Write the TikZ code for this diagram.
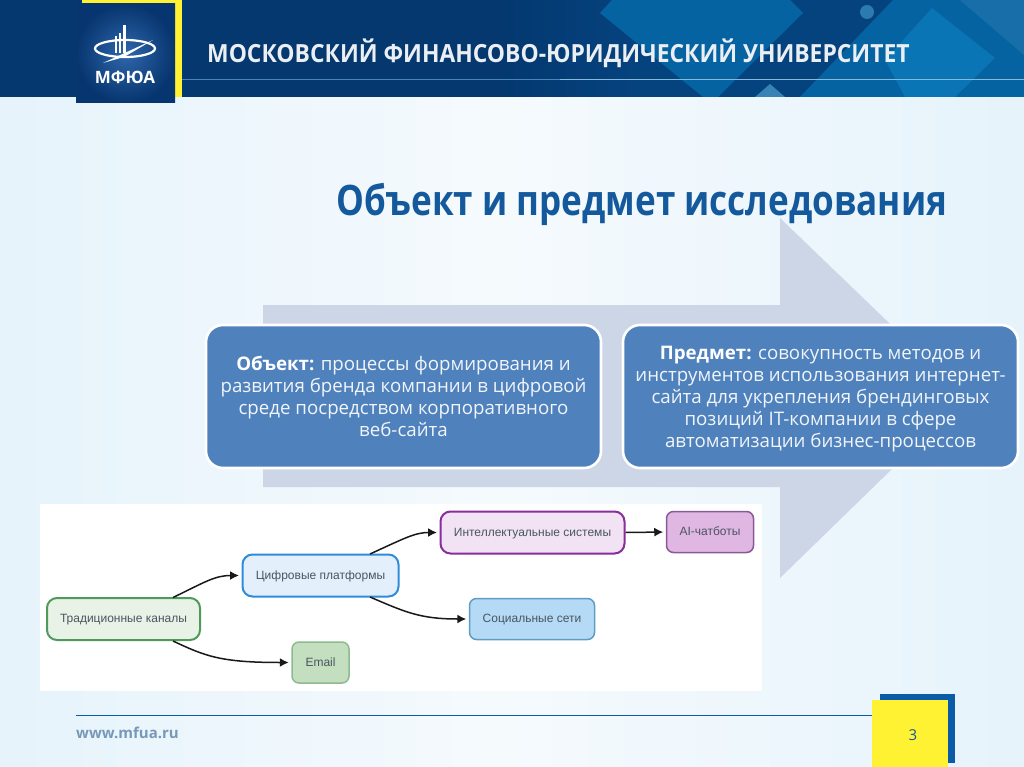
\documentclass[tikz,border=0pt]{standalone}
\usepackage{fontspec}
\setmainfont{Open Sans}
\newfontfamily\headfont[FakeStretch=0.915]{Open Sans}
\newfontfamily\plainfont{Open Sans}
\newfontfamily\titlefont[FakeStretch=0.835]{Open Sans}
\newfontfamily\bodyfont{Open Sans}
\newfontfamily\flowfont{Liberation Sans}
\usetikzlibrary{arrows.meta,shadings}
\definecolor{navy}{HTML}{04386F}
\definecolor{logoblue}{HTML}{0A4C9E}
\definecolor{yellowc}{HTML}{FFF233}
\definecolor{barblue}{HTML}{0B5CA8}
\definecolor{pale}{HTML}{E6F3FB}
\definecolor{arrowc}{HTML}{CDD6E6}
\definecolor{boxblue}{HTML}{4F81BD}
\definecolor{titlec}{HTML}{14599B}
\definecolor{inktext}{HTML}{4A5560}
\definecolor{hdmid}{HTML}{0663A2}
\definecolor{hddark}{HTML}{05437F}
\definecolor{hdlight}{HTML}{0A75B5}
\tikzset{
  x=1pt,y=-1pt,
  txtbox/.style={rectangle,rounded corners=17pt,draw=white,line width=2.6pt,fill=boxblue,
    text=white!92!boxblue,align=center,font=\bodyfont\fontsize{18.7}{22}\selectfont,inner sep=0pt},
  flow/.style={rectangle,line width=2pt,rounded corners=10pt,text=inktext,text height=9pt,text depth=2pt,font=\flowfont\fontsize{12}{13}\selectfont,inner sep=0pt},
  flowb/.style={flow,line width=1.5pt,rounded corners=7pt},
  flowarrow/.style={draw=black!90,line width=1.5pt,shorten >=2.5pt,-{Latex[length=9pt,width=9pt]}},
}
\begin{document}
\begin{tikzpicture}
\useasboundingbox (0,0) rectangle (1024,767);
% background
\fill[pale] (0,0) rectangle (1024,767);
\shade[left color=pale,right color=white!60!pale] (0,97) rectangle (500,767);
\shade[left color=white!60!pale,right color=pale] (500,97) rectangle (1024,767);
% header
\fill[navy] (0,0) rectangle (1024,97);
\shade[left color=navy,right color=hddark] (500,0) rectangle (640,97);
\fill[hddark] (640,0) rectangle (1024,97);
\fill[hdmid] (600,13) -- (612,0) -- (790,0) -- (803,13) -- (718,97) -- (703,97) -- cycle;
\fill[hdmid] (893,0) -- (1024,0) -- (1024,97) -- (800,97) -- cycle;
\fill[hdmid!80!white] (755,97) -- (770,84) -- (785,97) -- cycle;
\fill[hdlight] (932,8) -- (995,58) -- (955,97) -- (905,97) -- (885,60) -- cycle;
\fill[hdmid!85!white,opacity=.5] (960,0) -- (1024,0) -- (1024,55) -- cycle;
\fill[hdmid!85!white] (867,12) circle (7);
\draw[barblue!75!white,line width=1pt] (182,79.5) -- (560,79.5);
\draw[hdlight!50!white,line width=1.4pt] (560,79.5) -- (1024,79.5);
\fill[yellowc] (82,0) rectangle (182,4);
\fill[yellowc] (175,0) rectangle (182,97);
\shade[inner color=logoblue!85!white,outer color=logoblue!70!black] (76,4) rectangle (175,103);
\node[font=\plainfont\fontsize{17}{17}\selectfont\bfseries,text=white,inner sep=0pt] (logotext) at (125,77) {МФЮА};
% logo emblem
\draw[white,line width=2.2pt] (125,48.5) ellipse (30 and 8.5);
\fill[white] (115,53) rectangle (117,36);
\fill[white] (119,53) rectangle (121,33);
\fill[white] (123,53) rectangle (126,25);
\fill[white] (103,63) -- (153,40) -- (124,57) -- cycle;
\node[font=\headfont\fontsize{25}{26}\selectfont\bfseries,text=white!92!navy,anchor=west,inner sep=0pt] (uni) at (207,53) {МОСКОВСКИЙ ФИНАНСОВО-ЮРИДИЧЕСКИЙ УНИВЕРСИТЕТ};
% title
\node[font=\titlefont\fontsize{42}{44}\selectfont\bfseries,text=titlec,inner sep=0pt] (title) at (642,204) {Объект и предмет исследования};
% big arrow
\fill[arrowc] (263,305) -- (780,305) -- (780,218) -- (966,397) -- (780,578) -- (780,487) -- (263,487) -- cycle;
% text boxes
\node[txtbox,minimum width=395pt,minimum height=143pt] (objbox) at (403.5,396.5) {\rule{0pt}{15pt}\textcolor{white}{\textbf{Объект:}} процессы формирования и\\развития бренда компании в цифровой\\среде посредством корпоративного\\веб-сайта};
\node[txtbox,minimum width=395pt,minimum height=143pt] (subbox) at (820.5,396.5) {\rule{0pt}{19pt}\textcolor{white}{\textbf{Предмет:}} совокупность методов и\\инструментов использования интернет-\\сайта для укрепления брендинговых\\позиций IT-компании в сфере\\автоматизации бизнес-процессов};
% white panel
\fill[white] (40,504) rectangle (762,691);
% flow nodes
\definecolor{ftrad}{HTML}{E8F2E6}\definecolor{dtrad}{HTML}{4E9A5A}
\definecolor{fdigi}{HTML}{E3F0FB}\definecolor{ddigi}{HTML}{2F8BDB}
\definecolor{fintel}{HTML}{F1E3F3}\definecolor{dintel}{HTML}{8A2D9C}
\definecolor{fai}{HTML}{E0B6E3}\definecolor{dai}{HTML}{8A5A98}
\definecolor{fsoc}{HTML}{B5DAF5}\definecolor{dsoc}{HTML}{5E9CC6}
\definecolor{fem}{HTML}{C3DFBF}\definecolor{dem}{HTML}{8DBB8F}
\node[flow,draw=dtrad,fill=ftrad,minimum width=153pt,minimum height=42pt] (trad) at (123.5,619) {Традиционные каналы};
\node[flow,draw=ddigi,fill=fdigi,minimum width=156pt,minimum height=42pt] (digi) at (320.5,575.5) {Цифровые платформы};
\node[flow,draw=dintel,fill=fintel,minimum width=184pt,minimum height=42pt] (intel) at (532.5,532.5) {Интеллектуальные системы};
\node[flowb,draw=dai,fill=fai,minimum width=87pt,minimum height=41pt] (ai) at (710,532) {AI-чатботы};
\node[flowb,draw=dsoc,fill=fsoc,minimum width=125pt,minimum height=41pt] (soc) at (532,619) {Социальные сети};
\node[flowb,draw=dem,fill=fem,minimum width=57pt,minimum height=41pt] (email) at (320.5,662.5) {Email};
% flow connectors
\coordinate (t1) at (173,597.5);
\coordinate (t2) at (173,641);
\coordinate (d1) at (370,554);
\coordinate (d2) at (370,597);
\draw[flowarrow] (t1) .. controls (205,582) and (215,575.5) .. (digi.west);
\draw[flowarrow] (t2) .. controls (205,656) and (220,662.5) .. (email.west);
\draw[flowarrow] (d1) .. controls (405,538) and (415,532.5) .. (intel.west);
\draw[flowarrow] (d2) .. controls (405,612) and (420,619) .. (soc.west);
\draw[flowarrow] (intel.east) -- (ai.west);
% footer
\node[font=\plainfont\fontsize{15}{15}\selectfont\bfseries,text=black!25!barblue!55!white,anchor=west,inner sep=0pt] (url) at (76,733) {www.mfua.ru};
\fill[barblue] (880,694) rectangle (955,763);
\fill[yellowc] (872,700) rectangle (948,767);
\node[font=\plainfont\fontsize{15}{15}\selectfont,text=titlec,inner sep=0pt] (page) at (913,735) {3};
\coordinate (lineend) at (872,715.5);
\draw[barblue,line width=1.5pt] (76,715.5) -- (lineend);
\end{tikzpicture}
\end{document}
